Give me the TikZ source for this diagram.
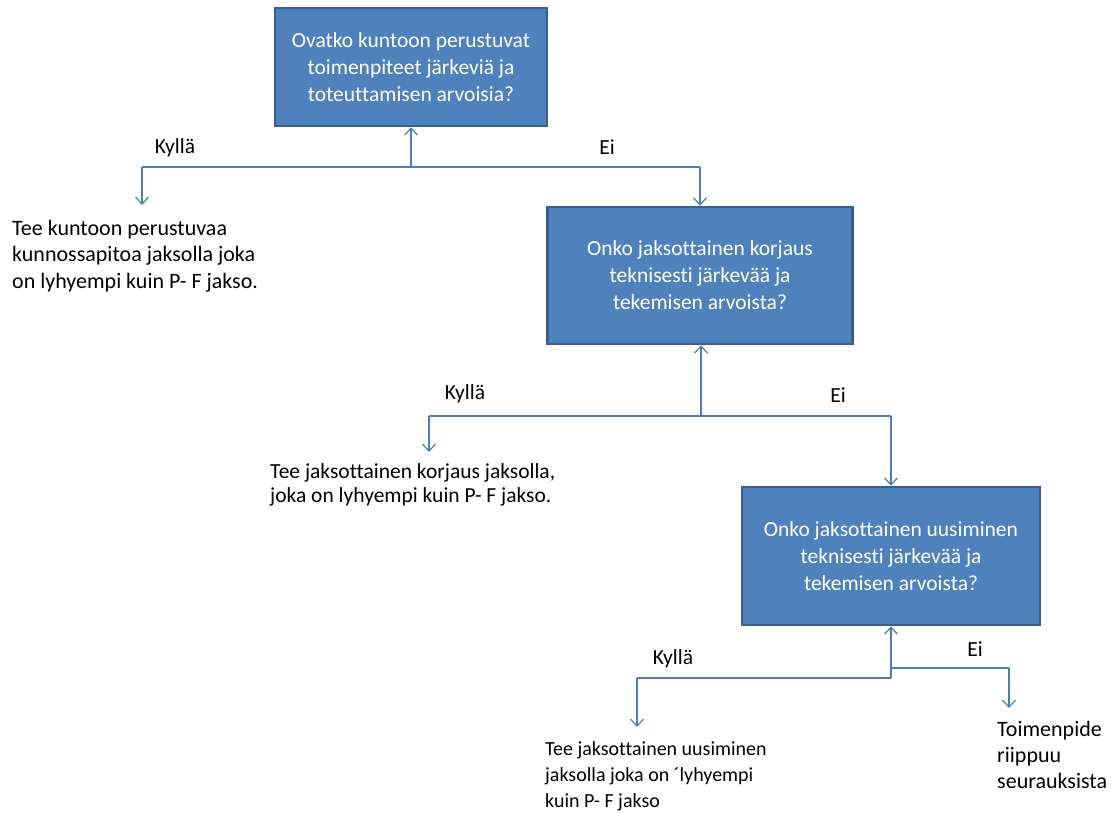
\documentclass[tikz,border=0pt]{standalone}
\usepackage{fontspec}
\setmainfont{Carlito}[Ligatures=NoCommon]
\usetikzlibrary{arrows.meta}
\definecolor{boxfill}{HTML}{4F81BD}
\definecolor{boxline}{HTML}{3A5F8C}
\definecolor{conn}{HTML}{4A7EBB}
\begin{document}
\begin{tikzpicture}[x=1pt,y=-1pt,
  qbox/.style={draw=boxline, line width=2.5pt, fill=boxfill, text=white,
    align=center, inner sep=0pt, font=\fontsize{21.5}{27}\selectfont},
  link/.style={draw=conn, line width=1.4pt},
  arr/.style={link, -{Straight Barb[length=7pt,width=13pt,line width=1.2pt]}},
  answer/.style={inner sep=0pt, anchor=base west, align=left},
  tag/.style={inner sep=0pt, font=\fontsize{21.5}{24}\selectfont}]
\useasboundingbox (0,0) rectangle (1117,812);

% question boxes
\node[qbox, minimum width=272pt, minimum height=118pt] (q1) at (411,67)
  {Ovatko kuntoon perustuvat\\toimenpiteet järkeviä ja\\toteuttamisen arvoisia?};
\node[qbox, minimum width=305pt, minimum height=137pt] (q2) at (700,275.5)
  {Onko jaksottainen korjaus\\teknisesti järkevää ja\\tekemisen arvoista?};
\node[qbox, minimum width=298pt, minimum height=138pt] (q3) at (891,556)
  {Onko jaksottainen uusiminen\\teknisesti järkevää ja\\tekemisen arvoista?};

% outcome texts (placed by the baseline of their last line)
\node[answer, font=\fontsize{22}{26.7}\selectfont] (a1) at (12,288.4)
  {Tee kuntoon perustuvaa\\kunnossapitoa jaksolla joka\\on lyhyempi kuin P- F jakso.};
\node[answer, font=\fontsize{21.5}{24}\selectfont] (a2) at (270,502)
  {Tee jaksottainen korjaus jaksolla,\\joka on lyhyempi kuin P- F jakso.};
\node[answer, font=\fontsize{20}{26}\selectfont] (a3) at (545,807)
  {Tee jaksottainen uusiminen\\jaksolla joka on ´lyhyempi\\kuin P- F jakso};
\node[answer, font=\fontsize{22}{26}\selectfont] (a4) at (997,788)
  {Toimenpide\\riippuu\\seurauksista};

% branch labels
\node[tag] (y1) at (175,148) {Kyllä};
\node[tag] (n1) at (607,147) {Ei};
\node[tag] (y2) at (465,394) {Kyllä};
\node[tag] (n2) at (838,395) {Ei};
\node[tag] (y3) at (673,659) {Kyllä};
\node[tag] (n3) at (975,649) {Ei};

% junction points
\coordinate (j1) at (411,167);
\coordinate (j1l) at (142,167);
\coordinate (j1r) at (700,167);
\coordinate (e1) at (142,205);
\coordinate (j2) at (701,416);
\coordinate (j2l) at (429,416);
\coordinate (j2r) at (891,416);
\coordinate (e2) at (429,452);
\coordinate (j3) at (891,678);
\coordinate (j3m) at (891,668);
\coordinate (j3l) at (637,678);
\coordinate (j3r) at (1009,668);
\coordinate (e3) at (637,727);
\coordinate (e4) at (1009,708);

% connectors, level 1
\draw[arr] (j1) -- (q1.south);
\draw[link] (j1l) -- (j1r);
\draw[arr] (j1l) -- (e1);
\draw[arr] (j1r) -- (q2.north);
% level 2
\draw[arr] (j2) -- (q2.south -| j2);
\draw[link] (j2l) -- (j2r);
\draw[arr] (j2l) -- (e2);
\draw[arr] (j2r) -- (q3.north);
% level 3
\draw[arr] (j3) -- (q3.south);
\draw[link] (j3l) -- (j3);
\draw[link] (j3m) -- (j3r);
\draw[arr] (j3l) -- (e3);
\draw[arr] (j3r) -- (e4);
\end{tikzpicture}
\end{document}
